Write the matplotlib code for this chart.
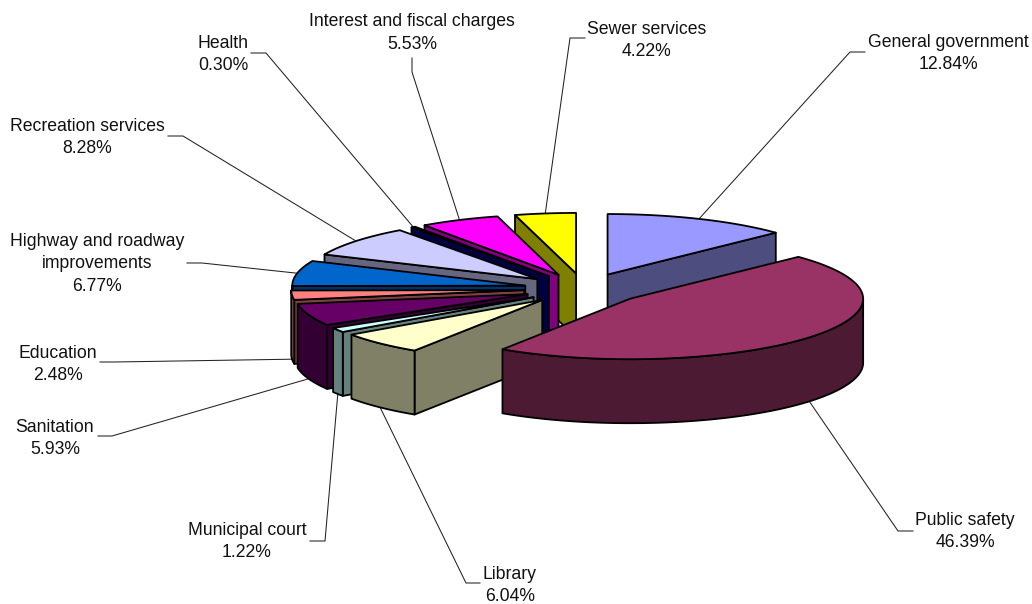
import numpy as np
from matplotlib import pyplot as plt
from matplotlib.patches import Polygon

categories = ['General government', 'Public safety', 'Library', 'Municipal court', 'Sanitation', 'Education',
              'Highway and roadway\nimprovements', 'Recreation services', 'Health', 'Interest and fiscal charges',
              'Sewer services']
shares = [12.84, 46.39, 6.04, 1.22, 5.93, 2.48, 6.77, 8.28, 0.30, 5.53, 4.22]
colors = ['#9999FF', '#993366', '#FFFFCC', '#CCFFFF', '#660066', '#FF8080', '#0066CC', '#CCCCFF', '#000080',
          '#FF00FF', '#FFFF00']
side_colors = ['#4D4D80', '#4D1A33', '#808066', '#668080', '#330033', '#804040', '#003366', '#666680', '#000040',
               '#800080', '#808000']

# layout in pixels: label centre, then the two leader points next to the label
label_pos = [(948, 53.5), (965, 531.5), (510, 585.5), (247, 541.5), (55, 438.5), (58, 364.5), (97, 264), (87, 137.5),
             (223, 54.5), (412, 33), (647, 40.5)]
leader_end = [(865, 52), (913, 531), (480, 583), (310, 541), (98, 436), (100, 362), (187, 263), (168, 136), (251, 53),
              (412, 58), (585, 38)]
leader_elbow = [(850, 52), (898, 531), (466, 583), (325, 541), (112, 436), (114, 362), (202, 263), (183, 136),
                (266, 53), (412, 72), (570, 38)]
draw_order = [0, 10, 9, 8, 7, 6, 5, 4, 3, 2, 1]

CX, CY = 584, 288.8
RX, RY = 233, 60.5
EX, EY = 60, 15.5
HEIGHT = 64

fig = plt.figure(figsize=(10.32, 6.04), dpi=100)
ax = fig.add_axes([0, 0, 1, 1])
ax.set_xlim(0, 1032)
ax.set_ylim(604, 0)
ax.axis('off')

edges = np.cumsum([0] + shares) / sum(shares) * 360


def rim(apex, deg):
    t = np.radians(deg)
    return apex[0] + RX * np.sin(t), apex[1] - RY * np.cos(t)


def slice_apex(mid):
    t = np.radians(mid)
    return CX + EX * np.sin(t), CY - EY * np.cos(t)


def add_poly(points, color):
    ax.add_patch(Polygon(points, closed=True, facecolor=color, edgecolor='black', linewidth=1.3, joinstyle='round'))


def draw_slice(i):
    start, end = edges[i], edges[i + 1]
    apex = slice_apex((start + end) / 2)
    # radial walls that face the viewer
    if start > 180:
        x, y = rim(apex, start)
        add_poly([apex, (x, y), (x, y + HEIGHT), (apex[0], apex[1] + HEIGHT)], side_colors[i])
    if end < 180:
        x, y = rim(apex, end)
        add_poly([apex, (x, y), (x, y + HEIGHT), (apex[0], apex[1] + HEIGHT)], side_colors[i])
    # outer wall, only the front half of the ellipse
    lo, hi = max(start, 90), min(end, 270)
    if lo < hi:
        xs, ys = rim(apex, np.linspace(lo, hi, 80))
        add_poly(list(zip(xs, ys)) + list(zip(xs[::-1], ys[::-1] + HEIGHT)), side_colors[i])
    # top face
    xs, ys = rim(apex, np.linspace(start, end, 80))
    add_poly([apex] + list(zip(xs, ys)), colors[i])


for i in draw_order:
    draw_slice(i)

for i, name in enumerate(categories):
    mid = (edges[i] + edges[i + 1]) / 2
    x, y = rim(slice_apex(mid), mid)
    if 90 < mid < 270:
        y += HEIGHT
    ax.plot([leader_end[i][0], leader_elbow[i][0], x], [leader_end[i][1], leader_elbow[i][1], y],
            color='#222222', linewidth=0.75, zorder=0.5)
    ax.text(label_pos[i][0], label_pos[i][1], f'{name}\n{shares[i]:.2f}%', ha='center', va='center', color='#111111',
            family='Liberation Sans', fontsize=12.7, linespacing=1.42)

plt.savefig('out.png', dpi=100)
